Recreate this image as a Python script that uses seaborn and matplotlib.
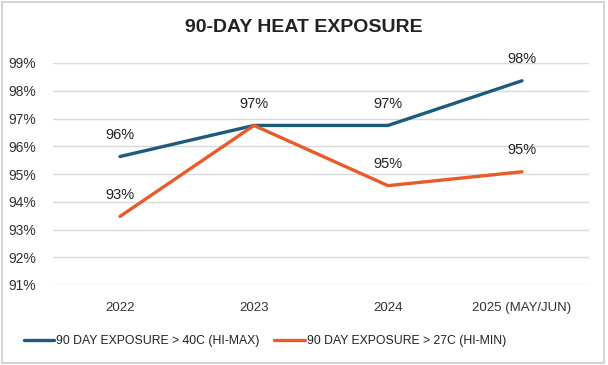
import matplotlib
matplotlib.use("Agg")
import matplotlib.pyplot as plt
import seaborn as sns
import pandas as pd
from matplotlib.patches import Rectangle

years = ["2022", "2023", "2024", "2025 (MAY/JUN)"]
hi_max = [95.63, 96.75, 96.75, 98.36]
hi_min = [93.47, 96.75, 94.58, 95.08]
max_labels = ["96%", "97%", "97%", "98%"]
min_labels = ["93%", "", "95%", "95%"]
series_names = ["90 DAY EXPOSURE > 40C (HI-MAX)", "90 DAY EXPOSURE > 27C (HI-MIN)"]
colors = ["#1D5A80", "#E65C2A"]

df = pd.DataFrame({
    "year": years * 2,
    "value": hi_max + hi_min,
    "series": [series_names[0]] * 4 + [series_names[1]] * 4,
})

sns.set_theme(style="white")
plt.rcParams["font.family"] = ["Liberation Sans", "DejaVu Sans"]

fig = plt.figure(figsize=(6.08, 3.65), dpi=100)
ax = fig.add_axes([53 / 608, 1 - 285 / 365, 536 / 608, 222 / 365])

sns.lineplot(data=df, x="year", y="value", hue="series", palette=colors,
             linewidth=2.4, sort=False, ax=ax)

ax.set_xlim(-0.5, 3.5)
ax.set_ylim(91, 99)
ax.set_yticks(range(91, 100))
ax.set_yticklabels([f"{v}%" for v in range(91, 100)])
ax.grid(axis="y", color="#d9d9d9", linewidth=1)
ax.set_axisbelow(True)
for s in ax.spines.values():
    s.set_visible(False)
ax.set_xlabel("")
ax.set_ylabel("")
ax.tick_params(axis="both", length=0, labelsize=10, colors="#333333")
ax.tick_params(axis="x", pad=12, labelsize=9.5)
ax.tick_params(axis="y", pad=12)

for i, (v, lab) in enumerate(zip(hi_max, max_labels)):
    ax.text(i, v + 0.77, lab, ha="center", va="center", fontsize=10.5,
            color="#222222", clip_on=False)
for i, (v, lab) in enumerate(zip(hi_min, min_labels)):
    if lab:
        ax.text(i, v + 0.77, lab, ha="center", va="center", fontsize=10.5,
                color="#222222", clip_on=False)

ax.legend(loc="upper center", bbox_to_anchor=(0.395, -0.175), ncol=2, frameon=False,
          fontsize=8.8, handlelength=2.5, handletextpad=0.15, columnspacing=1.2,
          labelcolor="#222222")

fig.text(0.5, 1 - 28 / 365, "90-DAY HEAT EXPOSURE", ha="center", va="center",
         fontsize=14, fontweight="bold", color="#222222")

fig.patches.append(Rectangle((0.004, 0.005), 0.99, 0.99, transform=fig.transFigure,
                             fill=False, edgecolor="#cccccc", linewidth=1.2))

fig.savefig("out.png", dpi=100)
